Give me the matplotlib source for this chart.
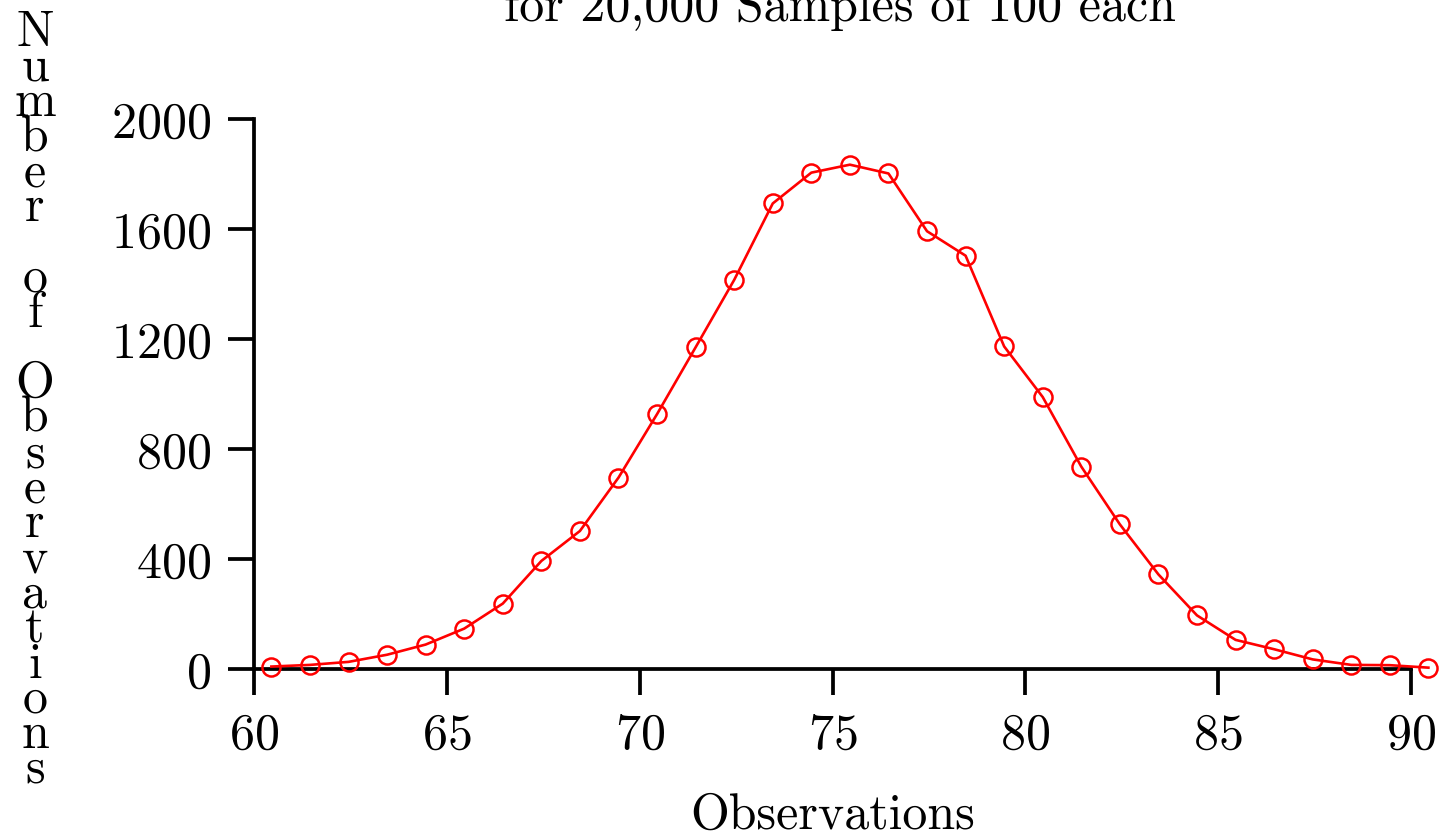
import numpy as np
import matplotlib
matplotlib.use("Agg")
import matplotlib.pyplot as plt

plt.rcParams['font.family'] = 'cmr10'
plt.rcParams['mathtext.fontset'] = 'cm'
plt.rcParams['axes.formatter.use_mathtext'] = True

# sample means (bin centres) and how often each came up
means = [60.45, 61.45, 62.45, 63.45, 64.45, 65.45, 66.45, 67.45, 68.45, 69.45,
         70.45, 71.45, 72.45, 73.45, 74.45, 75.45, 76.45, 77.45, 78.45, 79.45,
         80.45, 81.45, 82.45, 83.45, 84.45, 85.45, 86.45, 87.45, 88.45, 89.45,
         90.45]
counts = [10, 16, 27, 53, 90, 148, 239, 394, 503, 697,
          928, 1171, 1416, 1694, 1806, 1835, 1803, 1593, 1504, 1174,
          990, 737, 527, 345, 196, 107, 73, 36, 16, 15,
          6]
x_ticks = [60, 65, 70, 75, 80, 85, 90]
y_ticks = [0, 400, 800, 1200, 1600, 2000]

fig = plt.figure(figsize=(14.45, 8.36), dpi=100)
ax = fig.add_axes([0.1758, 0.1994, 0.8007, 0.6579])

ax.plot(means, counts, color='#ff0000', lw=1.9, marker='o', ms=13,
        mfc='none', mec='#ff0000', mew=1.8, clip_on=False, zorder=3)

ax.set_xlim(60, 90)
ax.set_ylim(0, 2000)
ax.set_xticks(x_ticks)
ax.set_yticks(y_ticks)

for side in ('top', 'right'):
    ax.spines[side].set_visible(False)
for side in ('left', 'bottom'):
    ax.spines[side].set_linewidth(2.7)
ax.tick_params(direction='out', length=19, width=2.7, labelsize=36, pad=12)

ax.set_xlabel('Observations', fontsize=36, labelpad=25)

# letters stacked one above the other, as in the original
ylab = '\n'.join(list('Number of Observations'))
fig.text(35 / 1445, 1 - 10 / 836, ylab, fontsize=36, ha='center', va='top',
         linespacing=0.70)

fig.text(0.581, 1 - 21 / 836, 'for 20,000 Samples of 100 each',
         fontsize=36, ha='center', va='baseline')

fig.savefig('out.png', dpi=100)
